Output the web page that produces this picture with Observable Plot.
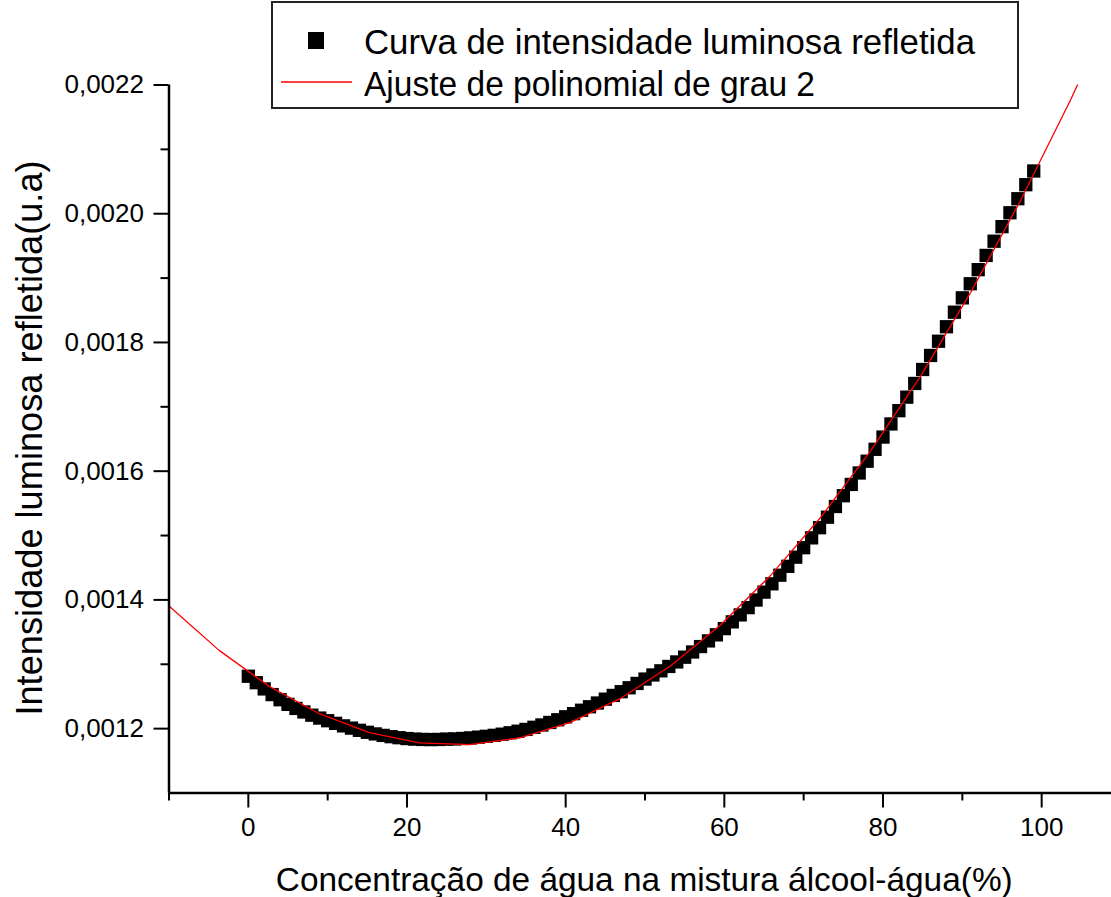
<!DOCTYPE html>
<html>
<head>
<meta charset="utf-8">
<script src="https://cdn.jsdelivr.net/npm/d3@7"></script>
<script src="https://cdn.jsdelivr.net/npm/@observablehq/plot@0.6"></script>
<style>
  html, body { margin: 0; padding: 0; background: #fff; overflow: hidden; }
  #wrap { position: relative; width: 1111px; height: 897px; }
  #wrap svg.plot { overflow: hidden; }
  #legend { position: absolute; left: 0; top: 0; }
</style>
</head>
<body>
<div id="wrap"></div>
<script>
// Concentração de água (%) for each measurement
const concentracao = [
  0, 1, 2, 3, 4, 5, 6, 7, 8, 9, 10, 11, 12, 13, 14, 15, 16, 17, 18, 19,
  20, 21, 22, 23, 24, 25, 26, 27, 28, 29, 30, 31, 32, 33, 34, 35, 36, 37, 38, 39,
  40, 41, 42, 43, 44, 45, 46, 47, 48, 49, 50, 51, 52, 53, 54, 55, 56, 57, 58, 59,
  60, 61, 62, 63, 64, 65, 66, 67, 68, 69, 70, 71, 72, 73, 74, 75, 76, 77, 78, 79,
  80, 81, 82, 83, 84, 85, 86, 87, 88, 89, 90, 91, 92, 93, 94, 95, 96, 97, 98, 99
];

// Reflected light intensity (u.a)
const intensidade = [
  0.0012814, 0.0012714, 0.0012617, 0.0012529, 0.0012449, 0.0012377, 0.0012314, 0.0012259, 0.0012209, 0.0012164,
  0.0012123, 0.0012082, 0.0012043, 0.0012008, 0.0011974, 0.0011943, 0.0011918, 0.0011895, 0.0011875, 0.0011859,
  0.0011846, 0.0011837, 0.0011832, 0.0011830, 0.0011832, 0.0011837, 0.0011840, 0.0011847, 0.0011856, 0.0011868,
  0.0011881, 0.0011896, 0.0011914, 0.0011936, 0.0011960, 0.0011988, 0.0012021, 0.0012057, 0.0012096, 0.0012138,
  0.0012184, 0.0012233, 0.0012286, 0.0012340, 0.0012398, 0.0012458, 0.0012516, 0.0012574, 0.0012635, 0.0012702,
  0.0012770, 0.0012834, 0.0012898, 0.0012966, 0.0013036, 0.0013110, 0.0013191, 0.0013275, 0.0013363, 0.0013457,
  0.0013554, 0.0013659, 0.0013767, 0.0013880, 0.0013998, 0.0014121, 0.0014250, 0.0014384, 0.0014522, 0.0014664,
  0.0014811, 0.0014964, 0.0015122, 0.0015285, 0.0015451, 0.0015619, 0.0015794, 0.0015972, 0.0016155, 0.0016340,
  0.0016530, 0.0016734, 0.0016940, 0.0017150, 0.0017363, 0.0017580, 0.0017798, 0.0018019, 0.0018244, 0.0018470,
  0.0018693, 0.0018912, 0.0019131, 0.0019352, 0.0019573, 0.0019799, 0.0020015, 0.0020233, 0.0020451, 0.0020664
];

// Second-degree polynomial fit, sampled across the axis range
const ajusteX = [
  -10, -3.684, 2.632, 8.947, 15.263, 21.579, 27.895, 34.211, 40.526, 46.842,
  53.158, 59.474, 65.789, 72.105, 78.421, 84.737, 91.053, 97.368, 103.684, 110
];
const ajusteY = [
  0.0013907, 0.0013216, 0.0012657, 0.0012232, 0.0011938, 0.0011778, 0.0011751, 0.0011856, 0.0012094, 0.0012465,
  0.0012969, 0.0013605, 0.0014374, 0.0015276, 0.0016311, 0.0017478, 0.0018779, 0.0020212, 0.0021778, 0.0023477
];

// Axis ticks
const xMajor = [0, 20, 40, 60, 80, 100];
const xMinor = [-10, 10, 30, 50, 70, 90, 110];
const yMajor = [0.0012, 0.0014, 0.0016, 0.0018, 0.0020, 0.0022];
const yMinor = [0.0013, 0.0015, 0.0017, 0.0019, 0.0021];

const xTitle = "Concentração de água na mistura álcool-água(%)";
const yTitle = "Intensidade luminosa refletida(u.a)";
const legendItems = ["Curva de intensidade luminosa refletida", "Ajuste de polinomial de grau 2"];

const pontos = concentracao.map((c, i) => ({x: c, y: intensidade[i]}));
const ajuste = ajusteX.map((c, i) => ({x: c, y: ajusteY[i]}));

const font = "'Liberation Sans', Arial, Helvetica, sans-serif";
const virgula = d => d.toFixed(4).replace(".", ",");

const chart = Plot.plot({
  width: 1111,
  height: 897,
  marginLeft: 168.5,
  marginRight: 0,
  marginTop: 84.5,
  marginBottom: 104.5,
  style: {fontFamily: font, fontSize: "26px", color: "black", background: "white"},
  x: {domain: [-10, 110], range: [168.5, 1120.5], label: null},
  y: {domain: [0.0011, 0.0022], label: null},
  marks: [
    Plot.dot(pontos, {x: "x", y: "y", symbol: "square", r: 7.5, fill: "black", stroke: "none"}),
    Plot.line(ajuste, {x: "x", y: "y", stroke: "#ff0000", strokeWidth: 1.3, clip: true}),
    Plot.ruleY([0.0011], {stroke: "black", strokeWidth: 2.5}),
    Plot.ruleX([-10], {stroke: "black", strokeWidth: 2.5}),
    Plot.axisX(xMajor, {tickSize: 15, tickPadding: 10, tickFormat: d => String(d), fontSize: 26, strokeWidth: 2, label: null}),
    Plot.axisX(xMinor, {tickSize: 8, tickFormat: () => "", strokeWidth: 2, label: null}),
    Plot.axisY(yMajor, {tickSize: 15, tickPadding: 10, tickFormat: virgula, fontSize: 26, strokeWidth: 2, label: null}),
    Plot.axisY(yMinor, {tickSize: 8, tickFormat: () => "", strokeWidth: 2, label: null}),
    Plot.text([xTitle], {frameAnchor: "bottom", dy: 87, dx: 4, lineAnchor: "middle", textAnchor: "middle", fontSize: 33.4, fill: "black"}),
    Plot.text([yTitle], {frameAnchor: "left", dx: -139, dy: -1, rotate: -90, lineAnchor: "middle", textAnchor: "middle", fontSize: 36.2, fill: "black"})
  ]
});

const wrap = document.getElementById("wrap");
wrap.appendChild(chart);

// Legend box drawn over the top of the plot area
const leg = d3.select(wrap).append("svg")
  .attr("id", "legend")
  .attr("width", 1111)
  .attr("height", 120)
  .style("font-family", font);

leg.append("rect")
  .attr("x", 272).attr("y", 2).attr("width", 746).attr("height", 106)
  .attr("fill", "white").attr("stroke", "#222").attr("stroke-width", 2);

leg.append("rect")
  .attr("x", 308).attr("y", 32).attr("width", 16).attr("height", 17)
  .attr("fill", "black");

leg.append("line")
  .attr("x1", 281).attr("x2", 352).attr("y1", 82).attr("y2", 82)
  .attr("stroke", "#ff0000").attr("stroke-width", 1.3);

const legendWidths = [611, 451];
leg.selectAll("text.item")
  .data(legendItems)
  .join("text")
  .attr("class", "item")
  .attr("x", 364)
  .attr("y", (d, i) => 42 + i * 42)
  .attr("dy", "0.35em")
  .attr("font-size", 34.5)
  .attr("textLength", (d, i) => legendWidths[i])
  .attr("lengthAdjust", "spacingAndGlyphs")
  .attr("fill", "black")
  .text(d => d);
</script>
</body>
</html>
